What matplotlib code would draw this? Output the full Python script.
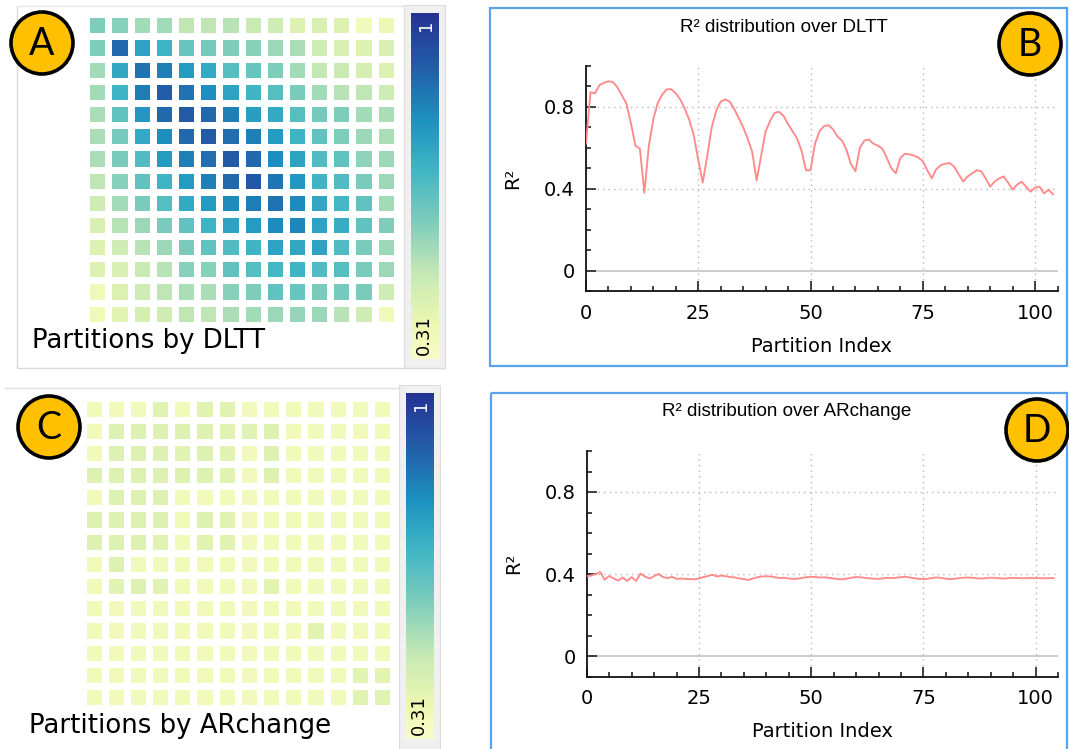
import numpy as np
import matplotlib
matplotlib.use("Agg")
import matplotlib.pyplot as plt
from matplotlib.patches import Circle, Rectangle
from matplotlib.colors import ListedColormap
from matplotlib.ticker import MultipleLocator

W, H = 1069, 749

# R² of each partition laid out on a 14 x 14 grid
dltt_grid = [
    [0.58, 0.57, 0.53, 0.53, 0.49, 0.49, 0.50, 0.47, 0.46, 0.42, 0.43, 0.42, 0.35, 0.37],
    [0.58, 0.87, 0.74, 0.69, 0.62, 0.60, 0.58, 0.57, 0.54, 0.52, 0.46, 0.43, 0.42, 0.43],
    [0.53, 0.73, 0.85, 0.82, 0.76, 0.72, 0.65, 0.62, 0.58, 0.53, 0.48, 0.47, 0.44, 0.42],
    [0.53, 0.69, 0.83, 0.89, 0.85, 0.79, 0.74, 0.69, 0.65, 0.59, 0.53, 0.50, 0.49, 0.46],
    [0.52, 0.63, 0.77, 0.87, 0.90, 0.87, 0.82, 0.75, 0.72, 0.65, 0.60, 0.58, 0.53, 0.52],
    [0.52, 0.60, 0.72, 0.79, 0.87, 0.90, 0.86, 0.82, 0.76, 0.69, 0.63, 0.58, 0.54, 0.52],
    [0.52, 0.59, 0.66, 0.76, 0.82, 0.86, 0.90, 0.87, 0.79, 0.74, 0.66, 0.63, 0.56, 0.54],
    [0.49, 0.57, 0.63, 0.69, 0.76, 0.82, 0.87, 0.91, 0.84, 0.77, 0.69, 0.66, 0.59, 0.54],
    [0.46, 0.53, 0.59, 0.65, 0.72, 0.76, 0.80, 0.83, 0.85, 0.80, 0.73, 0.68, 0.63, 0.53],
    [0.43, 0.50, 0.54, 0.59, 0.63, 0.69, 0.74, 0.76, 0.80, 0.81, 0.74, 0.71, 0.63, 0.58],
    [0.42, 0.46, 0.50, 0.54, 0.59, 0.63, 0.66, 0.69, 0.74, 0.73, 0.74, 0.66, 0.59, 0.54],
    [0.42, 0.43, 0.47, 0.50, 0.57, 0.57, 0.63, 0.65, 0.68, 0.69, 0.66, 0.65, 0.59, 0.54],
    [0.36, 0.42, 0.46, 0.49, 0.52, 0.52, 0.57, 0.58, 0.63, 0.62, 0.59, 0.60, 0.59, 0.46],
    [0.36, 0.40, 0.44, 0.46, 0.49, 0.49, 0.52, 0.53, 0.54, 0.55, 0.54, 0.50, 0.46, 0.36],
]

archange_grid = [
    [0.35, 0.35, 0.35, 0.41, 0.35, 0.41, 0.41, 0.35, 0.35, 0.35, 0.35, 0.35, 0.35, 0.35],
    [0.35, 0.42, 0.42, 0.42, 0.42, 0.42, 0.41, 0.41, 0.42, 0.35, 0.35, 0.35, 0.35, 0.35],
    [0.35, 0.42, 0.42, 0.42, 0.41, 0.42, 0.41, 0.35, 0.42, 0.35, 0.35, 0.35, 0.35, 0.35],
    [0.42, 0.42, 0.42, 0.42, 0.42, 0.42, 0.41, 0.35, 0.42, 0.35, 0.35, 0.35, 0.35, 0.35],
    [0.35, 0.42, 0.42, 0.42, 0.35, 0.35, 0.35, 0.35, 0.35, 0.35, 0.35, 0.35, 0.35, 0.35],
    [0.42, 0.42, 0.42, 0.42, 0.35, 0.42, 0.41, 0.35, 0.35, 0.35, 0.35, 0.35, 0.35, 0.35],
    [0.42, 0.42, 0.42, 0.41, 0.35, 0.41, 0.41, 0.35, 0.35, 0.35, 0.35, 0.35, 0.35, 0.35],
    [0.35, 0.42, 0.35, 0.35, 0.35, 0.35, 0.35, 0.35, 0.35, 0.35, 0.35, 0.35, 0.35, 0.35],
    [0.35, 0.41, 0.42, 0.41, 0.35, 0.35, 0.35, 0.35, 0.40, 0.35, 0.35, 0.35, 0.35, 0.35],
    [0.35, 0.35, 0.35, 0.35, 0.35, 0.35, 0.35, 0.35, 0.35, 0.35, 0.35, 0.35, 0.35, 0.35],
    [0.35, 0.35, 0.35, 0.35, 0.35, 0.35, 0.35, 0.35, 0.35, 0.35, 0.40, 0.35, 0.35, 0.35],
    [0.35, 0.35, 0.35, 0.35, 0.35, 0.35, 0.35, 0.35, 0.35, 0.35, 0.35, 0.35, 0.35, 0.35],
    [0.35, 0.35, 0.35, 0.35, 0.35, 0.35, 0.35, 0.35, 0.35, 0.35, 0.35, 0.35, 0.40, 0.40],
    [0.35, 0.35, 0.35, 0.35, 0.35, 0.35, 0.35, 0.35, 0.35, 0.35, 0.35, 0.35, 0.41, 0.41],
]

cbar_min, cbar_max = 0.31, 1.0
cbar_labels = ["0.31", "1"]

partition_index = np.arange(105)

r2_dltt = [
    0.62, 0.87, 0.865, 0.905, 0.917, 0.924, 0.92, 0.895, 0.855, 0.815,
    0.72, 0.61, 0.595, 0.38, 0.61, 0.74, 0.82, 0.86, 0.885, 0.885,
    0.865, 0.835, 0.79, 0.735, 0.66, 0.54, 0.43, 0.56, 0.70, 0.78,
    0.825, 0.835, 0.825, 0.79, 0.745, 0.70, 0.645, 0.58, 0.44, 0.56,
    0.68, 0.73, 0.77, 0.775, 0.755, 0.715, 0.68, 0.645, 0.585, 0.49,
    0.49, 0.62, 0.68, 0.705, 0.71, 0.69, 0.655, 0.635, 0.59, 0.52,
    0.485, 0.60, 0.635, 0.64, 0.62, 0.61, 0.595, 0.55, 0.50, 0.475,
    0.55, 0.57, 0.568, 0.562, 0.552, 0.535, 0.49, 0.45, 0.495, 0.515,
    0.522, 0.525, 0.507, 0.47, 0.435, 0.46, 0.475, 0.49, 0.485, 0.45,
    0.41, 0.435, 0.45, 0.46, 0.43, 0.395, 0.42, 0.434, 0.41, 0.385,
    0.405, 0.41, 0.377, 0.395, 0.373,
]

r2_archange = [
    0.39, 0.392, 0.40, 0.41, 0.372, 0.39, 0.378, 0.368, 0.383, 0.366,
    0.385, 0.366, 0.402, 0.387, 0.378, 0.39, 0.40, 0.385, 0.38, 0.386,
    0.376, 0.378, 0.376, 0.375, 0.374, 0.378, 0.385, 0.39, 0.396, 0.388,
    0.392, 0.389, 0.385, 0.383, 0.378, 0.375, 0.371, 0.378, 0.384, 0.388,
    0.389, 0.388, 0.384, 0.38, 0.382, 0.378, 0.376, 0.377, 0.381, 0.385,
    0.386, 0.385, 0.383, 0.384, 0.381, 0.378, 0.375, 0.374, 0.378, 0.382,
    0.385, 0.384, 0.381, 0.379, 0.377, 0.376, 0.379, 0.381, 0.38, 0.382,
    0.385, 0.386, 0.383, 0.379, 0.376, 0.375, 0.377, 0.381, 0.383, 0.381,
    0.377, 0.375, 0.377, 0.38, 0.382, 0.383, 0.381, 0.379, 0.378, 0.38,
    0.382, 0.381, 0.379, 0.378, 0.38, 0.381, 0.38, 0.379, 0.38, 0.381,
    0.38, 0.38, 0.379, 0.38, 0.38,
]


def rect(x0, y0, x1, y1):
    # pixel box (top-left origin) -> figure fraction
    return [x0 / W, 1 - y1 / H, (x1 - x0) / W, (y1 - y0) / H]


cmap = ListedColormap(plt.cm.YlGnBu(np.linspace(0.05, 0.88, 256)))

fig = plt.figure(figsize=(W / 100, H / 100), dpi=100)
fig.patch.set_facecolor("white")

# background layer: frames and colorbar boxes
bg = fig.add_axes([0, 0, 1, 1], zorder=-5)
bg.set_xlim(0, W)
bg.set_ylim(H, 0)
bg.axis("off")
bg.add_patch(Rectangle((404, 5), 41, 363, facecolor="#f0f0f0", edgecolor="#dcdcdc", lw=0.8))
bg.add_patch(Rectangle((399, 385), 41, 370, facecolor="#f0f0f0", edgecolor="#dcdcdc", lw=0.8))
bg.plot([17, 17, 445], [5.5, 368, 368], color="#dadada", lw=1)
bg.plot([17, 404], [5.5, 5.5], color="#e6e6e6", lw=1)
bg.plot([5, 400], [388, 388], color="#e0e0e0", lw=1)
bg.add_patch(Rectangle((490, 8), 577, 358, facecolor="none", edgecolor="#5aa2ea", lw=1.6))
bg.add_patch(Rectangle((491, 393), 576, 370, facecolor="none", edgecolor="#5aa2ea", lw=1.6))


def heatmap(box, cbox, values):
    ax = fig.add_axes(rect(*box))
    mesh = ax.pcolormesh(np.array(values), cmap=cmap, vmin=cbar_min, vmax=cbar_max,
                         edgecolors="white", linewidth=3.95)
    ax.set_xlim(0, 14)
    ax.set_ylim(14, 0)
    ax.axis("off")
    cax = fig.add_axes(rect(*cbox))
    cb = fig.colorbar(mesh, cax=cax)
    cb.set_ticks([])
    cb.outline.set_visible(False)
    cax.text(0.55, 0.965, cbar_labels[1], transform=cax.transAxes, rotation=90,
             ha="center", va="center", color="white", fontsize=13)
    cax.text(0.45, 0.07, cbar_labels[0], transform=cax.transAxes, rotation=90,
             ha="center", va="center", color="black", fontsize=13)
    return ax


heatmap((86.3, 14.3, 396.8, 324.8), (411, 13, 439, 359), dltt_grid)
heatmap((82.6, 397.6, 393.1, 708.1), (406, 393, 434, 739), archange_grid)


def r2_panel(box, values):
    ax = fig.add_axes(rect(*box))
    ax.set_facecolor("none")
    for v in [25, 50, 75, 100]:
        ax.axvline(v, color="#b8b8b8", lw=1, ls=(0, (1, 3)), zorder=1)
    for v in [0.4, 0.8]:
        ax.axhline(v, color="#b8b8b8", lw=1, ls=(0, (1, 3)), zorder=1)
    ax.axhline(0, color="#c4c4c4", lw=1.2, zorder=1)
    ax.plot(partition_index, values, color="#ff8a8a", lw=1.35, zorder=3)
    ax.set_xlim(0, 105)
    ax.set_ylim(-0.1, 1.0)
    ax.set_xticks([0, 25, 50, 75, 100])
    ax.set_yticks([0, 0.4, 0.8])
    ax.set_yticklabels(["0", "0.4", "0.8"])
    ax.xaxis.set_minor_locator(MultipleLocator(5))
    ax.yaxis.set_minor_locator(MultipleLocator(0.1))
    ax.tick_params(which="major", direction="in", length=7, width=1.2, labelsize=14,
                   color="#222222")
    ax.tick_params(axis="y", which="major", pad=8)
    ax.tick_params(axis="x", which="major", pad=9)
    ax.tick_params(which="minor", direction="in", length=3.5, width=1.2, color="#222222")
    for s in ["top", "right"]:
        ax.spines[s].set_visible(False)
    for s in ["left", "bottom"]:
        ax.spines[s].set_linewidth(1.3)
        ax.spines[s].set_color("#111111")
    ax.set_xlabel("Partition Index", fontsize=14)
    ax.xaxis.set_label_coords(0.5, -0.245)
    ax.xaxis.label.set_va("center")
    ax.set_ylabel("R²", fontsize=14)
    ax.yaxis.set_label_coords(-0.155, 0.5)
    ax.yaxis.label.set_va("center")
    return ax


r2_panel((586, 65.7, 1057.5, 291.2), r2_dltt)
r2_panel((586.7, 451, 1058.2, 676.5), r2_archange)

# top layer: titles, captions and panel badges
top = fig.add_axes([0, 0, 1, 1], zorder=10)
top.set_xlim(0, W)
top.set_ylim(H, 0)
top.axis("off")
top.text(783.7, 27, "R² distribution over DLTT", ha="center", va="center",
         fontsize=13.6, family="Liberation Sans")
top.text(786.7, 412, "R² distribution over ARchange", ha="center", va="center",
         fontsize=13.6, family="Liberation Sans")
top.text(32, 348, "Partitions by DLTT", ha="left", va="baseline", fontsize=18.7)
top.text(29, 733, "Partitions by ARchange", ha="left", va="baseline", fontsize=18.7)

for (cx, cy, letter) in [(42, 43, "A"), (1030, 44, "B"), (49, 427, "C"), (1037, 430, "D")]:
    top.add_patch(Circle((cx, cy), 31, facecolor="#ffc000", edgecolor="black", lw=2.6))
    top.text(cx, cy + 1, letter, ha="center", va="center", fontsize=27, family="Lato")

fig.savefig("out.png", dpi=100, facecolor="white")
